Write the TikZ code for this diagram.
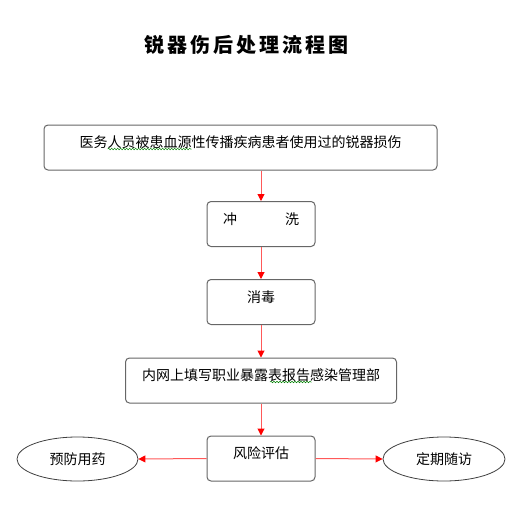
\documentclass[tikz,border=0pt]{standalone}
\usepackage{fontspec}
\newfontfamily\cjk{Noto Sans CJK SC}
\usetikzlibrary{shapes,arrows.meta,positioning,decorations.pathmorphing}

\begin{document}
\begin{tikzpicture}[x=1pt,y=-1pt,
  stepbox/.style={draw=black!60,line width=1pt,rounded corners=4pt,inner sep=0pt,
    text height=22.5pt,text depth=22.5pt,font=\cjk\fontsize{14}{16}\selectfont},
  oval/.style={draw=black!75,line width=0.8pt,ellipse,inner sep=0pt,
    font=\cjk\fontsize{14}{16}\selectfont},
  flow/.style={draw=red!65,line width=1pt,-{Triangle[length=7pt,width=7pt,color=red]}},
  spell/.style={draw=green!50!black,line width=0.5pt,decorate,
    decoration={snake,amplitude=0.8pt,segment length=3pt}}]
\useasboundingbox (0,0) rectangle (522,522);

%Title
\node(title) at (246,45) {\cjk\fontsize{20}{22}\addfontfeature{LetterSpace=15}\bfseries 锐器伤后处理流程图};

%Steps
\node[stepbox,minimum width=393pt](harm) at (240.5,147.5) {医务人员被患血源性传播疾病患者使用过的锐器损伤};
\node[stepbox,minimum width=108pt](rinse) at (261,224) {冲\hspace{48pt}洗};
\node[stepbox,minimum width=108pt](disinfect) at (261,302) {消毒};
\node[stepbox,minimum width=271pt](report) at (261,380.5) {内网上填写职业暴露表报告感染管理部};
\node[stepbox,minimum width=108pt](assess) at (261,458.5) {风险评估\hspace{4pt}};

%Outcomes
\node[oval,minimum width=121pt,minimum height=44pt](drug) at (77.5,459) {预防用药\hspace{18pt}};
\node[oval,minimum width=122pt,minimum height=44pt](followup) at (444,459) {定期随访\hspace{19pt}};

%Spell marks
\draw[spell] (107.7,149) -- (191.7,149);
\draw[spell] (270,382) -- (311.7,382);

%Arrows
\draw[flow] (harm.south -| rinse) -- (rinse.north);
\draw[flow] (rinse) -- (disinfect);
\draw[flow] (disinfect) -- (report);
\draw[flow] (report) -- (assess);
\draw[flow] (assess.west) -- (drug.east);
\draw[flow] (assess.east) -- (followup.west);

\end{tikzpicture}
\end{document}
